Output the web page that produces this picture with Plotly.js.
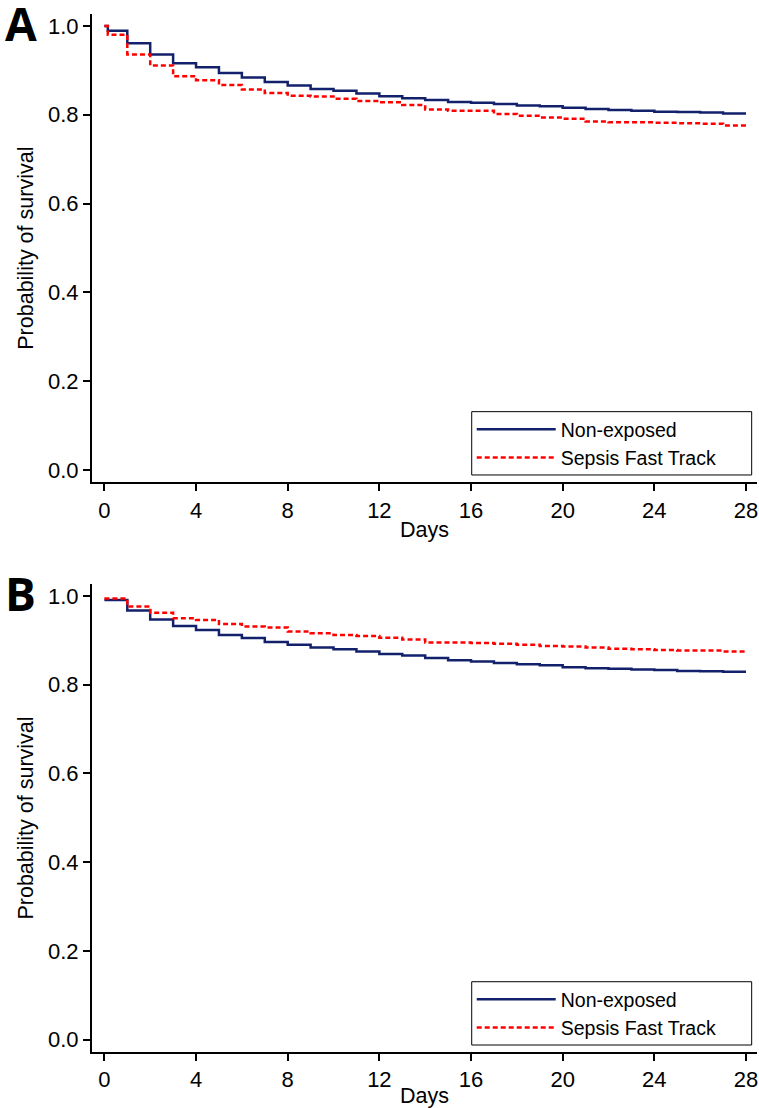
<!DOCTYPE html>
<html>
<head>
<meta charset="utf-8">
<script src="https://cdn.plot.ly/plotly-3.0.1.min.js"></script>
<style>html,body{margin:0;padding:0;background:#fff;}#chart{width:759px;height:1108px;}</style>
</head>
<body>
<div id="chart"></div>
<script>
// Panel A (days; first step at day 0 from 1.0)
const daysA = [0, 0.15, 1, 2, 3, 4, 5, 6, 7, 8, 9, 10, 11, 12, 13, 14, 15, 16, 17, 18, 19, 20, 21, 22, 23, 24, 25, 26, 27, 28];
const nonExposedA = [1.0, 0.989, 0.961, 0.936, 0.916, 0.907, 0.894, 0.884, 0.874, 0.866, 0.858, 0.854, 0.848, 0.842, 0.837, 0.833, 0.829, 0.827, 0.824, 0.821, 0.819, 0.816, 0.813, 0.811, 0.809, 0.807, 0.806, 0.805, 0.803, 0.803];
const sepsisA = [1.0, 0.980, 0.936, 0.911, 0.887, 0.878, 0.867, 0.857, 0.849, 0.843, 0.841, 0.836, 0.831, 0.828, 0.822, 0.812, 0.809, 0.809, 0.802, 0.798, 0.794, 0.791, 0.785, 0.783, 0.783, 0.782, 0.781, 0.780, 0.776, 0.775];

// Panel B
const daysB = [0, 1, 2, 3, 4, 5, 6, 7, 8, 9, 10, 11, 12, 13, 14, 15, 16, 17, 18, 19, 20, 21, 22, 23, 24, 25, 26, 27, 28];
const nonExposedB = [0.991, 0.967, 0.947, 0.932, 0.923, 0.912, 0.905, 0.896, 0.890, 0.884, 0.880, 0.875, 0.869, 0.866, 0.860, 0.855, 0.852, 0.849, 0.846, 0.844, 0.839, 0.837, 0.836, 0.834, 0.833, 0.831, 0.830, 0.829, 0.829];
const sepsisB = [0.994, 0.976, 0.962, 0.950, 0.946, 0.937, 0.931, 0.929, 0.920, 0.916, 0.912, 0.910, 0.906, 0.902, 0.895, 0.895, 0.894, 0.892, 0.890, 0.887, 0.886, 0.884, 0.881, 0.880, 0.878, 0.877, 0.877, 0.875, 0.875];

const seriesNames = ["Non-exposed", "Sepsis Fast Track"];
const xTicks = [0, 4, 8, 12, 16, 20, 24, 28];
const yTicks = [0, 0.2, 0.4, 0.6, 0.8, 1.0];
const panelLabels = ["A", "B"];

const FONT = "Liberation Sans, Arial, sans-serif";
const BLUE = "#13206b";
const RED = "#ff0000";

const blueLine = {color: BLUE, width: 2.5, shape: "hv"};
const redLine = {color: RED, width: 2.5, dash: "5px,3px", shape: "hv"};

const data = [
  {x: daysA, y: nonExposedA, name: seriesNames[0], mode: "lines", line: blueLine, xaxis: "x", yaxis: "y", legend: "legend"},
  {x: daysA, y: sepsisA, name: seriesNames[1], mode: "lines", line: redLine, xaxis: "x", yaxis: "y", legend: "legend"},
  {x: daysB, y: nonExposedB, name: seriesNames[0], mode: "lines", line: blueLine, xaxis: "x2", yaxis: "y2", legend: "legend2"},
  {x: daysB, y: sepsisB, name: seriesNames[1], mode: "lines", line: redLine, xaxis: "x2", yaxis: "y2", legend: "legend2"}
];

function xAx(anchor) {
  return {
    anchor: anchor, domain: [0, 1], range: [-0.54, 28.48],
    tickmode: "array", tickvals: xTicks, ticktext: xTicks.map(String),
    ticks: "outside", ticklen: 7, tickwidth: 2, tickcolor: "#000",
    showline: true, linewidth: 2, linecolor: "#000",
    showgrid: false, zeroline: false,
    tickfont: {family: FONT, size: 22, color: "#000"},
    title: {text: "Days", font: {family: FONT, size: 21.5, color: "#000"}, standoff: 0},
    fixedrange: true
  };
}
function yAx(anchor, domain) {
  return {
    anchor: anchor, domain: domain, range: [-0.028, 1.027],
    tickmode: "array", tickvals: yTicks, ticktext: yTicks.map(v => v.toFixed(1)),
    ticks: "outside", ticklen: 7, tickwidth: 2, tickcolor: "#000",
    showline: true, linewidth: 2, linecolor: "#000",
    showgrid: false, zeroline: false,
    tickfont: {family: FONT, size: 22, color: "#000"},
    title: {text: "Probability of survival", font: {family: FONT, size: 21.5, color: "#000"}, standoff: 8},
    fixedrange: true
  };
}

const legendBase = {
  xanchor: "left", yanchor: "top",
  bgcolor: "rgba(0,0,0,0)", borderwidth: 0,
  font: {family: FONT, size: 19.5, color: "#000"},
  itemwidth: 79, tracegroupgap: 0
};

function legendBox(yTop, yBot) {
  return {type: "rect", xref: "paper", yref: "paper", x0: 0.571, x1: 0.992, y0: yBot, y1: yTop,
          line: {color: "#000", width: 1}, fillcolor: "rgba(0,0,0,0)", layer: "above"};
}

const labelFont = {family: "Open Sans, Liberation Sans, sans-serif", size: 46, color: "#000"};

const layout = {
  width: 759, height: 1108,
  margin: {l: 92, r: 2, t: 14, b: 56},
  paper_bgcolor: "#fff", plot_bgcolor: "#fff",
  showlegend: true,
  xaxis: xAx("y"),
  yaxis: yAx("x", [0.5488, 1]),
  xaxis2: xAx("y2"),
  yaxis2: yAx("x2", [0, 0.4509]),
  legend: Object.assign({x: 0.571, y: 0.6185}, legendBase),
  legend2: Object.assign({x: 0.571, y: 0.0693}, legendBase),
  shapes: [legendBox(0.6169, 0.5559), legendBox(0.0677, 0.00674)],
  annotations: [
    {text: "<b>" + panelLabels[0] + "</b>", xref: "paper", yref: "paper", x: -0.1338, y: 0.991, xanchor: "left", yanchor: "middle", showarrow: false, font: labelFont},
    {text: "<b>" + panelLabels[1] + "</b>", xref: "paper", yref: "paper", x: -0.1338, y: 0.4418, xanchor: "left", yanchor: "middle", showarrow: false, font: labelFont}
  ]
};

Plotly.newPlot("chart", data, layout, {staticPlot: true, displayModeBar: false});
</script>
</body>
</html>
